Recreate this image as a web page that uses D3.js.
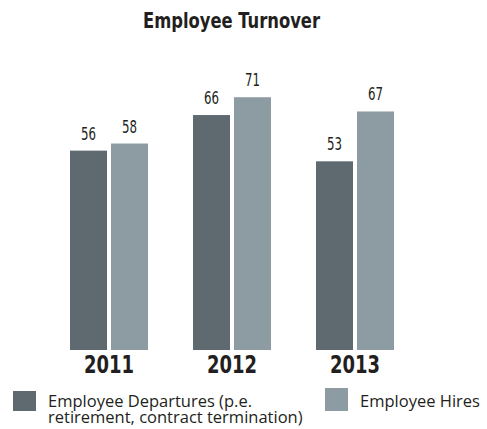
<!DOCTYPE html>
<meta charset="utf-8">
<script src="https://d3js.org/d3.v7.min.js"></script>
<style>
  body { margin: 0; background: #fff; }
  .cond { font-family: "Liberation Sans Narrow", "DejaVu Sans Condensed", sans-serif; }
</style>
<div id="chart"></div>
<script>
  // data
  const years = ["2011", "2012", "2013"];
  const legendLines = ["Employee Departures (p.e.", "retirement, contract termination)"];
  const hiresName = "Employee Hires";
  const departures = [56, 66, 53];
  const hires = [58, 71, 67];
  const colors = ["#5e6970", "#8d9ba3"];

  const width = 487, height = 429;
  const ink = "#231f20";

  const svg = d3.select("#chart")
    .append("svg")
    .attr("width", width)
    .attr("height", height);

  // title (condensed face squeezed to the reference width)
  svg.append("text")
    .attr("class", "cond")
    .attr("x", 143)
    .attr("y", 28)
    .style("font-size", "22px")
    .style("font-weight", "bold")
    .attr("textLength", 177)
    .attr("lengthAdjust", "spacingAndGlyphs")
    .attr("fill", ink)
    .text("Employee Turnover");

  const x0 = d3.scaleBand()
    .domain(years)
    .range([70, 394])
    .paddingInner(45 / 123)
    .paddingOuter(0);

  const x1 = d3.scaleBand()
    .domain([0, 1])
    .range([0, x0.bandwidth()])
    .paddingInner(4 / 41);

  const y = d3.scaleLinear()
    .domain([0, 75])
    .range([350, 350 - 75 * 3.56]);

  const rows = years.map((yr, i) => ({ year: yr, values: [departures[i], hires[i]] }));

  const groups = svg.selectAll("g.year")
    .data(rows)
    .enter()
    .append("g")
    .attr("class", "year")
    .attr("transform", d => `translate(${x0(d.year)},0)`);

  groups.selectAll("rect")
    .data(d => d.values.map((v, k) => ({ k: k, v: v })))
    .enter()
    .append("rect")
    .attr("x", d => x1(d.k))
    .attr("y", d => y(d.v))
    .attr("width", x1.bandwidth())
    .attr("height", d => y(0) - y(d.v))
    .attr("fill", d => colors[d.k]);

  // value labels
  groups.selectAll("text.val")
    .data(d => d.values.map((v, k) => ({ k: k, v: v })))
    .enter()
    .append("text")
    .attr("class", "val cond")
    .attr("x", d => x1(d.k) + x1.bandwidth() / 2 - 7.5)
    .attr("y", d => y(d.v) - 11)
    .style("font-size", "17px")
    .attr("textLength", 15)
    .attr("lengthAdjust", "spacingAndGlyphs")
    .attr("fill", ink)
    .text(d => d.v);

  // year axis
  const xAxis = svg.append("g")
    .attr("transform", `translate(0, ${y(0)})`)
    .call(d3.axisBottom(x0).tickSize(0).tickPadding(0));
  xAxis.select(".domain").remove();
  xAxis.selectAll("text")
    .attr("class", "cond")
    .attr("dy", 0)
    .attr("y", 23)
    .attr("x", -25)
    .attr("text-anchor", "start")
    .attr("textLength", 50)
    .attr("lengthAdjust", "spacingAndGlyphs")
    .style("font-size", "25px")
    .style("font-weight", "bold")
    .attr("fill", ink);

  // legend
  const legend = svg.append("g").attr("class", "legend");
  legend.append("rect")
    .attr("x", 13).attr("y", 391).attr("width", 23).attr("height", 20)
    .attr("fill", colors[0]);
  legend.append("text")
    .attr("x", 48).attr("y", 407)
    .style("font-family", "'Open Sans', sans-serif")
    .style("font-size", "16.5px")
    .attr("fill", ink)
    .selectAll("tspan")
    .data(legendLines)
    .enter()
    .append("tspan")
    .attr("x", 48)
    .attr("dy", (d, i) => i === 0 ? 0 : 16)
    .text(d => d);

  legend.append("rect")
    .attr("x", 325).attr("y", 388).attr("width", 23).attr("height", 23)
    .attr("fill", colors[1]);
  legend.append("text")
    .attr("x", 360).attr("y", 407)
    .style("font-family", "'Open Sans', sans-serif")
    .style("font-size", "16.5px")
    .attr("fill", ink)
    .text(hiresName);
</script>
